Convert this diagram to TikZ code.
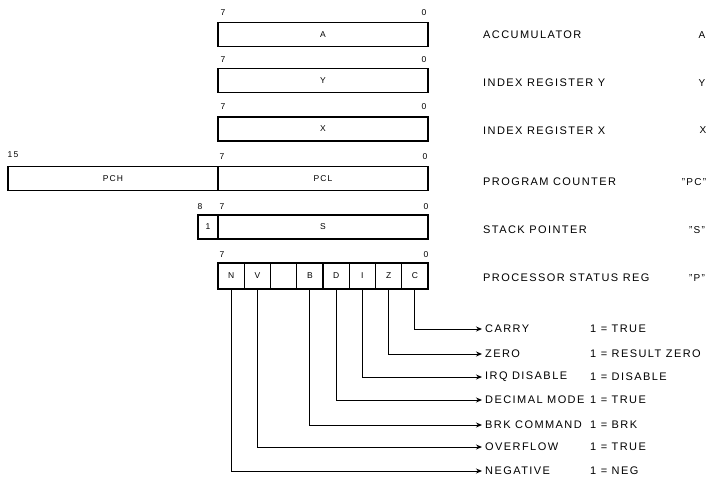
\documentclass[tikz,border=0pt]{standalone}
\usepackage{fontspec}
\setmainfont[LetterSpace=13]{Liberation Sans}
\usetikzlibrary{arrows.meta}

\tikzset{
  reg/.style={draw, line width=1.2pt, minimum height=24pt, inner sep=0pt, font=\fontsize{8.5}{9}\selectfont},
  bitno/.style={inner sep=0pt, font=\fontsize{8.5}{9}\selectfont},
  pcell/.style={draw, line width=1.1pt, minimum width=26.25pt, minimum height=26pt, inner sep=0pt, font=\fontsize{8.5}{9}\selectfont},
  regname/.style={anchor=west, inner sep=0pt, font=\fontsize{11}{12}\selectfont},
  regtag/.style={inner sep=0pt, font=\fontsize{10}{11}\selectfont},
  flagname/.style={anchor=west, inner xsep=3pt, inner ysep=0pt, font=\fontsize{11}{12}\selectfont},
  flagval/.style={anchor=west, inner sep=0pt, font=\fontsize{11}{12}\selectfont},
  flagline/.style={line width=0.9pt, -{Stealth[length=6pt,width=5pt]}}
}

\begin{document}
\begin{tikzpicture}[x=1pt, y=-1pt]
    \useasboundingbox (0,0) rectangle (709,483);

    % Accumulator
    \node[reg, minimum width=210pt] (rega) at (323,34.5) {A};
    \node[bitno] (a7) at (223,13) {7};
    \node[bitno] (a0) at (424,13) {0};
    \node[regname] (na) at (483,35) {ACCUMULATOR};
    \node[regtag] (ta) at (702,35) {A};

    % Index register Y
    \node[reg, minimum width=210pt] (regy) at (323,80.5) {Y};
    \node[bitno] (y7) at (223,60) {7};
    \node[bitno] (y0) at (424,60) {0};
    \node[regname] (ny) at (483,83) {INDEX REGISTER Y};
    \node[regtag] (ty) at (702,83) {Y};

    % Index register X
    \node[reg, minimum width=210pt] (regx) at (323,129) {X};
    \node[bitno] (x7) at (223,107) {7};
    \node[bitno] (x0) at (424,107) {0};
    \node[regname] (nx) at (483,131) {INDEX REGISTER X};
    \node[regtag] (tx) at (703,130) {X};

    % Program counter
    \node[reg, minimum width=210pt] (pch) at (113,178.5) {PCH};
    \node[reg, minimum width=210pt] (pcl) at (323,178.5) {PCL};
    \node[bitno] (pc15) at (13,155) {15};
    \node[bitno] (pc7) at (222,157) {7};
    \node[bitno] (pc0) at (425,157) {0};
    \node[regname] (npc) at (483,182) {PROGRAM COUNTER};
    \node[regtag] (tpc) at (694,182) {"PC"};

    % Stack pointer
    \node[reg, minimum width=20pt] (s8) at (208,227) {1};
    \node[reg, minimum width=210pt] (regs) at (323,227) {S};
    \node[bitno] (s8no) at (200,207) {8};
    \node[bitno] (s7) at (222,207) {7};
    \node[bitno] (s0) at (426,207) {0};
    \node[regname] (ns) at (483,230) {STACK POINTER};
    \node[regtag] (ts) at (697,230) {"S"};

    % Processor status register
    \node[pcell] (pn) at (231.125,276) {N};
    \node[pcell] (pv) at (257.375,276) {V};
    \node[pcell] (pu) at (283.625,276) {};
    \node[pcell] (pb) at (309.875,276) {B};
    \node[pcell] (pd) at (336.125,276) {D};
    \node[pcell] (pi) at (362.375,276) {I};
    \node[pcell] (pz) at (388.625,276) {Z};
    \node[pcell] (pc) at (414.875,276) {C};
    \node[bitno] (p7) at (222,255) {7};
    \node[bitno] (p0) at (426,255) {0};
    \node[regname] (np) at (483,278) {PROCESSOR STATUS REG};
    \node[regtag] (tp) at (697,278) {"P"};

    % Flag meanings
    \node[flagname] (fc) at (482,329) {CARRY};
    \node[flagval] (vc) at (590,329) {1 = TRUE};
    \node[flagname] (fz) at (482,354) {ZERO};
    \node[flagval] (vz) at (590,354) {1 = RESULT ZERO};
    \node[flagname] (fi) at (482,377) {IRQ DISABLE};
    \node[flagval] (vi) at (590,377) {1 = DISABLE};
    \node[flagname] (fd) at (482,400) {DECIMAL MODE};
    \node[flagval] (vd) at (590,400) {1 = TRUE};
    \node[flagname] (fb) at (482,425) {BRK COMMAND};
    \node[flagval] (vb) at (590,425) {1 = BRK};
    \node[flagname] (fv) at (482,447) {OVERFLOW};
    \node[flagval] (vv) at (590,447) {1 = TRUE};
    \node[flagname] (fn) at (482,471) {NEGATIVE};
    \node[flagval] (vn) at (590,471) {1 = NEG};

    % Arrows
    \draw[flagline] (pc.south) |- (fc.west);
    \draw[flagline] (pz.south) |- (fz.west);
    \draw[flagline] (pi.south) |- (fi.west);
    \draw[flagline] (pd.south) |- (fd.west);
    \draw[flagline] (pb.south) |- (fb.west);
    \draw[flagline] (pv.south) |- (fv.west);
    \draw[flagline] (pn.south) |- (fn.west);
\end{tikzpicture}
\end{document}
